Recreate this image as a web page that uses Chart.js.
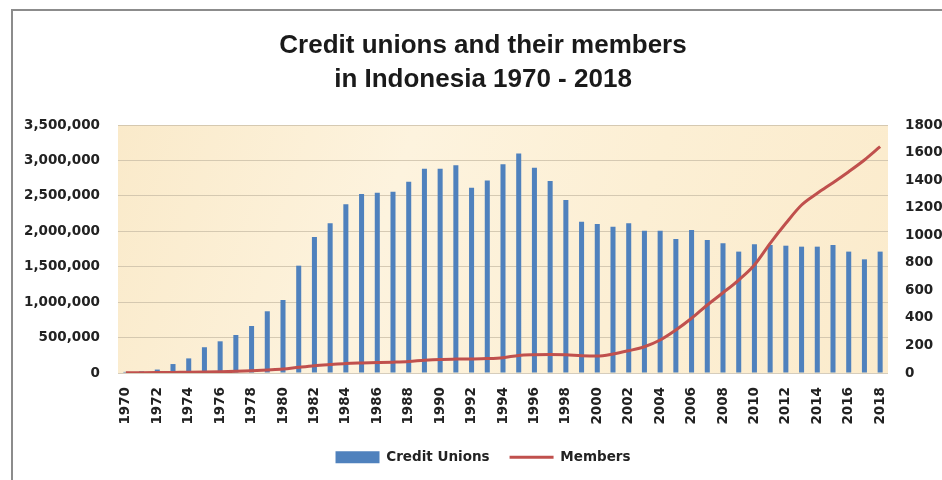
<!DOCTYPE html>
<html><head><meta charset="utf-8">
<script src="https://cdn.jsdelivr.net/npm/chart.js@4.4.0/dist/chart.umd.min.js"></script>
<style>
html,body{margin:0;padding:0;background:#fff;overflow:hidden;width:942px;height:480px;}
#frame{position:absolute;left:11px;top:9px;width:1000px;height:600px;border-left:2px solid #8c8c8c;border-top:2px solid #8c8c8c;}
#wrap{position:absolute;left:0;top:0;width:966px;height:480px;}
</style></head><body>
<div id="frame"></div>
<div id="wrap"><canvas id="c"></canvas></div>
<script>
const years = ['1970','1971','1972','1973','1974','1975','1976','1977','1978','1979',
  '1980','1981','1982','1983','1984','1985','1986','1987','1988','1989',
  '1990','1991','1992','1993','1994','1995','1996','1997','1998','1999',
  '2000','2001','2002','2003','2004','2005','2006','2007','2008','2009',
  '2010','2011','2012','2013','2014','2015','2016','2017','2018'];

const creditUnions = [8, 12, 25, 65, 106, 187, 230, 276, 341, 448,
  530, 779, 987, 1086, 1224, 1299, 1309, 1316, 1389, 1483,
  1483, 1507, 1345, 1398, 1515, 1594, 1490, 1393, 1256, 1098,
  1081, 1062, 1086, 1033, 1033, 973, 1038, 965, 941, 881,
  934, 929, 924, 917, 917, 929, 881, 825, 881];

const members = [2000, 4000, 6000, 8000, 10000, 13000, 17000, 23000, 31000, 42000,
  55000, 80000, 103000, 120000, 135000, 142000, 147000, 153000, 162000, 180000,
  192000, 196000, 198000, 203000, 216000, 248000, 258000, 262000, 258000, 245000,
  240000, 268000, 315000, 371000, 466000, 607000, 772000, 960000, 1133000, 1312000,
  1524000, 1830000, 2113000, 2371000, 2536000, 2686000, 2841000, 3006000, 3194000];

const membersAxisMax = 3500000, membersAxisStep = 500000;
const unionsAxisMax = 1800, unionsAxisStep = 200;

const titleLines = ['Credit unions and their members', 'in Indonesia 1970 - 2018'];

const tickFont = {family: 'DejaVu Sans', weight: 'bold', size: 13.5};

const bgPlugin = {
  id: 'plotBg',
  beforeDraw(chart) {
    const {ctx, chartArea: a} = chart;
    const g = ctx.createLinearGradient(a.left, a.top, a.right, a.bottom);
    g.addColorStop(0, 'rgb(250,234,202)');
    g.addColorStop(0.35, 'rgb(253,243,222)');
    g.addColorStop(0.65, 'rgb(252,239,212)');
    g.addColorStop(1, 'rgb(251,235,204)');
    ctx.save();
    ctx.fillStyle = g;
    ctx.fillRect(a.left, a.top, a.right - a.left, a.bottom - a.top);
    ctx.restore();
  }
};

new Chart(document.getElementById('c'), {
  data: {
    labels: years,
    datasets: [
      {type: 'bar', label: 'Credit Unions', data: creditUnions, yAxisID: 'y1',
       backgroundColor: '#4F81BD', borderColor: '#4F81BD', borderWidth: 0,
       barPercentage: 0.32, categoryPercentage: 1, order: 1, pointStyle: 'rect'},
      {type: 'line', label: 'Members', data: members, yAxisID: 'y',
       borderColor: '#C0504D', backgroundColor: '#C0504D', borderWidth: 3,
       pointRadius: 0, cubicInterpolationMode: 'monotone', fill: false,
       order: 0, pointStyle: 'line'}
    ]
  },
  options: {
    responsive: true, maintainAspectRatio: false, animation: false,
    layout: {padding: {left: 0, right: 0, top: 0, bottom: 6}},
    plugins: {
      title: {display: true, text: titleLines, color: '#1a1a1a',
        font: {family: 'Liberation Sans', weight: 'bold', size: 26, lineHeight: 1.3077},
        padding: {top: 29, bottom: 28}},
      legend: {display: true, position: 'bottom',
        labels: {usePointStyle: true, pointStyleWidth: 44, boxHeight: 12,
          font: tickFont, color: '#222', padding: 20,
          sort: (a, b) => a.datasetIndex - b.datasetIndex}},
      tooltip: {enabled: false}
    },
    scales: {
      x: {
        grid: {display: false, drawTicks: false},
        border: {display: false},
        ticks: {autoSkip: false, minRotation: 90, maxRotation: 90, padding: 14,
          font: tickFont, color: '#222',
          callback: (v, i) => (i % 2 === 0 ? years[i] : '')},
        afterFit: s => { s.height = 57.5; }
      },
      y: {
        position: 'left', min: 0, max: membersAxisMax,
        grid: {color: 'rgba(200,188,165,0.75)', lineWidth: 1, drawTicks: false},
        border: {display: false},
        ticks: {stepSize: membersAxisStep, padding: 18, font: tickFont, color: '#222',
          callback: v => v.toLocaleString('en-US')},
        afterFit: s => { s.width = 118; }
      },
      y1: {
        position: 'right', min: 0, max: unionsAxisMax,
        grid: {drawOnChartArea: false, drawTicks: false},
        border: {display: false},
        ticks: {stepSize: unionsAxisStep, padding: 17, font: tickFont, color: '#222',
          callback: v => String(v)},
        afterFit: s => { s.width = 78; }
      }
    }
  },
  plugins: [bgPlugin]
});
</script>
</body></html>
